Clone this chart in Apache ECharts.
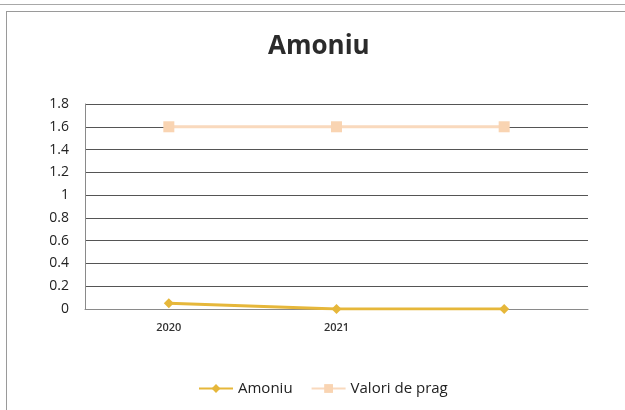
<!DOCTYPE html>
<html>
<head>
<meta charset="utf-8">
<script src="https://cdn.jsdelivr.net/npm/echarts@6/dist/echarts.min.js"></script>
<style>
  html, body { margin: 0; padding: 0; background: #fff; }
  #frame { position: absolute; left: 6px; top: 11px; width: 640px; height: 420px; border: 1px solid #9a9a9a; }
  #topline { position: absolute; left: 0; top: 4px; width: 625px; height: 1px; background: #a8a8a8; }
  #myChart { position: absolute; left: 0; top: 0; width: 625px; height: 410px; }
</style>
</head>
<body>
<div id="topline"></div>
<div id="frame"></div>
<div id="myChart"></div>
<script>
const categories = ['2020', '2021', '']
const amoniu = [0.05, 0, 0]
const valoriPrag = [1.6, 1.6, 1.6]
const yTicks = [0, 0.2, 0.4, 0.6, 0.8, 1, 1.2, 1.4, 1.6, 1.8]

const chart = echarts.init(document.getElementById('myChart'))
const option = {
  animation: false,
  title: {
    text: 'Amoniu',
    left: 263,
    top: 29,
    textStyle: { fontFamily: 'Open Sans', fontSize: 26, fontWeight: 'bold', color: '#2b2b2b' },
  },
  grid: { left: 85, right: 37, top: 104, bottom: 101 },
  legend: {
    bottom: 9,
    left: 193,
    itemGap: 18,
    itemWidth: 34,
    itemHeight: 11,
    textStyle: { fontFamily: 'Open Sans', fontSize: 15, color: '#222' },
    data: ['Amoniu', 'Valori de prag'],
  },
  xAxis: {
    type: 'category',
    data: categories,
    boundaryGap: true,
    axisLine: { lineStyle: { color: '#8a8a8a' } },
    axisTick: { show: false },
    axisLabel: { fontFamily: 'Open Sans', fontSize: 11, fontWeight: 600, color: '#333', margin: 13 },
  },
  yAxis: {
    type: 'value',
    min: 0,
    max: yTicks[yTicks.length - 1],
    interval: 0.2,
    axisLine: { show: true, lineStyle: { color: '#8a8a8a' } },
    axisTick: { show: false },
    splitLine: { lineStyle: { color: '#555', width: 1 } },
    axisLabel: {
      fontFamily: 'Open Sans',
      fontSize: 14,
      color: '#222',
      margin: 16,
      formatter: (v) => String(Math.round(v * 10) / 10),
    },
  },
  series: [
    {
      name: 'Amoniu',
      type: 'line',
      data: amoniu,
      symbol: 'diamond',
      symbolSize: 10,
      lineStyle: { color: '#e6b73a', width: 3 },
      itemStyle: { color: '#e6b73a' },
      z: 3,
    },
    {
      name: 'Valori de prag',
      type: 'line',
      data: valoriPrag,
      symbol: 'rect',
      symbolSize: 11,
      lineStyle: { color: '#f9d9bd', width: 3 },
      itemStyle: { color: '#f9d4b2' },
      z: 2,
    },
  ],
}
chart.setOption(option)
</script>
</body>
</html>
